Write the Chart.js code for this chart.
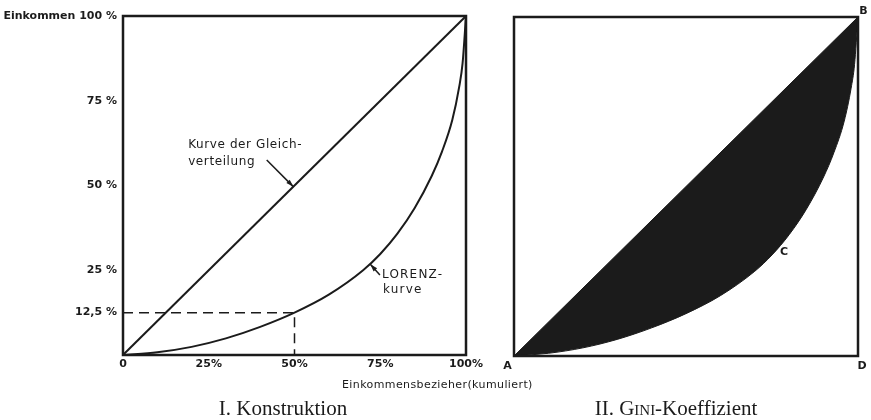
<!DOCTYPE html>
<html>
<head>
<meta charset="utf-8">
<script src="https://cdn.jsdelivr.net/npm/chart.js@4.4.0/dist/chart.umd.min.js"></script>
<style>
  html, body { margin: 0; padding: 0; background: #fff; }
  #wrap { position: relative; width: 871px; height: 420px; overflow: hidden; }
  #left { position: absolute; left: 0; top: 0; }
  #right { position: absolute; left: 480px; top: 0; }
</style>
</head>
<body>
<div id="wrap">
  <canvas id="left" width="560" height="420"></canvas>
  <canvas id="right" width="391" height="420"></canvas>
</div>
<script>
// cumulative share of income earners (%) and their share of income (%)
const earners = [0, 10, 20, 30, 40, 50, 60, 70, 75, 80, 85, 90, 93, 96, 98, 99, 100];
const lorenz  = [0, 0.8, 2.4, 4.9, 8.3, 12.5, 17.8, 25, 29.8, 35.8, 43.3, 52.8, 60, 69.3, 79, 86, 100];
// line of equal distribution
const equalX = [0, 100];
const equalY = [0, 100];
// dashed guide at 50% earners / 12,5% income
const guideX = [0, 50, 50];
const guideY = [12.5, 12.5, 0];

const xTicks = [0, 25, 50, 75, 100];
const xTickLabels = ['0', '25%', '50%', '75%', '100%'];
const yTicks = [12.5, 25, 50, 75, 100];
const yTickLabels = ['12,5 %', '25 %', '50 %', '75 %', 'Einkommen 100 %'];

const ink = '#1b1b1b';
const pts = (xs, ys) => xs.map((x, i) => ({ x: x, y: ys[i] }));

const frame = {
  id: 'frame',
  afterDatasetsDraw(chart) {
    const a = chart.chartArea, ctx = chart.ctx;
    ctx.save();
    ctx.strokeStyle = ink;
    ctx.lineWidth = 2.5;
    ctx.strokeRect(a.left, a.top, a.right - a.left, a.bottom - a.top);
    ctx.restore();
  }
};

function arrow(ctx, x0, y0, x1, y1) {
  const ang = Math.atan2(y1 - y0, x1 - x0);
  ctx.beginPath();
  ctx.moveTo(x0, y0);
  ctx.lineTo(x1, y1);
  ctx.stroke();
  ctx.beginPath();
  ctx.moveTo(x1, y1);
  ctx.lineTo(x1 - 8 * Math.cos(ang - 0.3), y1 - 8 * Math.sin(ang - 0.3));
  ctx.lineTo(x1 - 8 * Math.cos(ang + 0.3), y1 - 8 * Math.sin(ang + 0.3));
  ctx.closePath();
  ctx.fill();
}

const leftNotes = {
  id: 'leftNotes',
  afterDraw(chart) {
    const ctx = chart.ctx, sx = chart.scales.x, sy = chart.scales.y;
    const px = v => sx.getPixelForValue(v), py = v => sy.getPixelForValue(v);
    ctx.save();
    ctx.fillStyle = ink;
    ctx.strokeStyle = ink;
    ctx.lineWidth = 1.5;
    ctx.font = '12px "DejaVu Sans"';
    ctx.letterSpacing = '0.6px';
    ctx.textAlign = 'left';
    ctx.textBaseline = 'alphabetic';
    ctx.fillText('Kurve der Gleich-', px(19), py(61.1));
    ctx.fillText('verteilung', px(19), py(56));
    arrow(ctx, px(41.9), py(57.5), px(49.7), py(49.6));
    ctx.letterSpacing = '1.2px';
    ctx.fillText('LORENZ-', px(75.5), py(22.7));
    ctx.fillText('kurve', px(75.8), py(18.3));
    arrow(ctx, px(74.9), py(23.6), px(72.1), py(26.8));
    // axis title and caption
    ctx.font = '11px "DejaVu Sans"';
    ctx.letterSpacing = '0.4px';
    ctx.fillText('Einkommensbezieher(kumuliert)', 342, 388);
    ctx.letterSpacing = '0px';
    ctx.font = '21px "Liberation Serif"';
    ctx.textAlign = 'center';
    ctx.fillText('I. Konstruktion', 283, 415);
    ctx.restore();
  }
};

const rightNotes = {
  id: 'rightNotes',
  afterDraw(chart) {
    const ctx = chart.ctx, sx = chart.scales.x, sy = chart.scales.y;
    const px = v => sx.getPixelForValue(v), py = v => sy.getPixelForValue(v);
    ctx.save();
    ctx.fillStyle = ink;
    ctx.font = 'bold 11px "DejaVu Sans"';
    ctx.textAlign = 'center';
    ctx.textBaseline = 'middle';
    ctx.fillText('A', px(-1.9), py(-2.9));
    ctx.fillText('B', px(101.6), py(101.6));
    ctx.fillText('C', px(78.5), py(30.5));
    ctx.fillText('D', px(101.2), py(-2.9));
    // caption with small caps
    const parts = [['II. G', 21], ['INI', 15], ['-Koeffizient', 21]];
    ctx.textBaseline = 'alphabetic';
    ctx.textAlign = 'left';
    let total = 0;
    parts.forEach(p => { ctx.font = p[1] + 'px "Liberation Serif"'; total += ctx.measureText(p[0]).width; });
    let x = 196 - total / 2;
    parts.forEach(p => {
      ctx.font = p[1] + 'px "Liberation Serif"';
      ctx.fillText(p[0], x, 415);
      x += ctx.measureText(p[0]).width;
    });
    ctx.restore();
  }
};

const tickFont = { family: '"DejaVu Sans"', size: 11, weight: 'bold' };

new Chart(document.getElementById('left'), {
  type: 'scatter',
  data: {
    datasets: [
      { data: pts(equalX, equalY), showLine: true, borderColor: ink, borderWidth: 2, pointRadius: 0 },
      { data: pts(earners, lorenz), showLine: true, borderColor: ink, borderWidth: 2, pointRadius: 0,
        cubicInterpolationMode: 'monotone' },
      { data: pts(guideX, guideY), showLine: true, borderColor: ink, borderWidth: 1.5, borderDash: [10, 6],
        pointRadius: 0 }
    ]
  },
  options: {
    responsive: false,
    animation: false,
    layout: { padding: { left: 0, top: 16, right: 94, bottom: 35 } },
    plugins: { legend: { display: false }, tooltip: { enabled: false } },
    scales: {
      x: {
        type: 'linear', min: 0, max: 100,
        afterBuildTicks: s => { s.ticks = xTicks.map(v => ({ value: v })); },
        afterFit: s => { s.height = 30; },
        grid: { display: false, drawTicks: false },
        border: { display: false },
        ticks: { padding: 3, maxRotation: 0, autoSkip: false, color: ink, font: tickFont,
          callback: v => xTickLabels[xTicks.indexOf(v)] }
      },
      y: {
        type: 'linear', min: 0, max: 100,
        afterBuildTicks: s => { s.ticks = yTicks.map(v => ({ value: v })); },
        afterFit: s => { s.width = 123; },
        grid: { display: false, drawTicks: false },
        border: { display: false },
        ticks: { padding: 6, autoSkip: false, color: ink, font: tickFont,
          callback: v => yTickLabels[yTicks.indexOf(v)] }
      }
    }
  },
  plugins: [frame, leftNotes]
});

new Chart(document.getElementById('right'), {
  type: 'scatter',
  data: {
    datasets: [
      { data: pts(earners, lorenz), showLine: true, borderColor: ink, borderWidth: 1, pointRadius: 0,
        cubicInterpolationMode: 'monotone', fill: false },
      { data: pts(equalX, equalY), showLine: true, borderColor: ink, borderWidth: 1, pointRadius: 0,
        fill: '-1', backgroundColor: ink }
    ]
  },
  options: {
    responsive: false,
    animation: false,
    layout: { padding: { left: 34, top: 17, right: 13, bottom: 64 } },
    plugins: { legend: { display: false }, tooltip: { enabled: false } },
    scales: {
      x: { type: 'linear', min: 0, max: 100, display: false },
      y: { type: 'linear', min: 0, max: 100, display: false }
    }
  },
  plugins: [frame, rightNotes]
});
</script>
</body>
</html>
